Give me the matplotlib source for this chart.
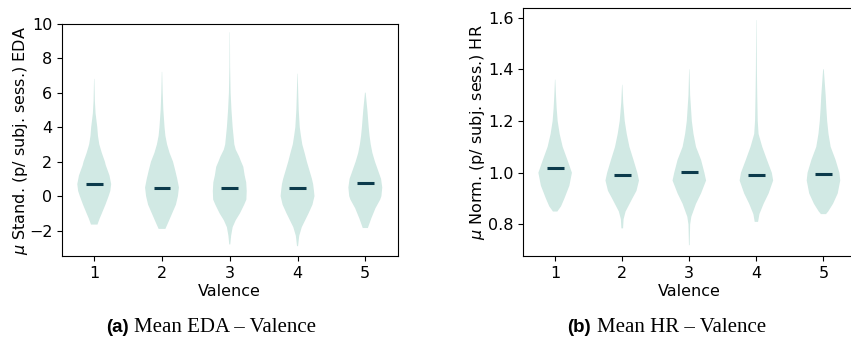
import matplotlib
matplotlib.use("Agg")
import matplotlib.pyplot as plt
import numpy as np

positions = [1, 2, 3, 4, 5]
xticklabels = ["1", "2", "3", "4", "5"]

# ---- EDA (left) violin profiles: y value and relative half-width ----
eda_coords = [
    [-1.65, -1.3, -1.0, -0.5, 0.0, 0.3, 0.7, 1.2, 1.8, 2.0, 2.5, 3.0, 3.5, 4.0, 4.8, 5.5, 6.8],
    [-1.9, -1.5, -1.0, -0.5, 0.0, 0.5, 1.0, 1.5, 2.0, 2.5, 3.0, 3.5, 4.0, 5.0, 6.0, 7.2],
    [-2.8, -2.3, -1.8, -1.4, -1.0, -0.5, -0.2, 0.3, 0.8, 1.2, 1.7, 2.0, 2.3, 2.7, 3.0, 4.0, 5.0, 6.0, 7.5, 9.5],
    [-2.9, -2.3, -1.8, -1.4, -1.0, -0.5, 0.0, 0.3, 0.7, 1.0, 1.5, 2.0, 2.5, 3.0, 3.5, 4.0, 5.0, 6.0, 7.1],
    [-1.85, -1.3, -0.7, -0.2, 0.0, 0.5, 1.0, 1.5, 2.0, 2.5, 3.0, 3.5, 4.0, 5.0, 6.0],
]
eda_widths = [
    [0.19, 0.32, 0.45, 0.66, 0.85, 0.95, 1.0, 0.9, 0.68, 0.63, 0.45, 0.3, 0.22, 0.18, 0.08, 0.04, 0.01],
    [0.2, 0.38, 0.6, 0.82, 0.94, 1.0, 0.9, 0.78, 0.65, 0.45, 0.3, 0.2, 0.15, 0.08, 0.04, 0.01],
    [0.03, 0.08, 0.17, 0.35, 0.6, 0.85, 0.98, 1.0, 0.97, 0.88, 0.8, 0.67, 0.55, 0.35, 0.27, 0.17, 0.1, 0.05, 0.02, 0.01],
    [0.03, 0.1, 0.25, 0.45, 0.65, 0.88, 1.0, 0.97, 0.92, 0.85, 0.7, 0.55, 0.42, 0.28, 0.2, 0.13, 0.07, 0.04, 0.01],
    [0.15, 0.35, 0.6, 0.88, 0.95, 1.0, 0.93, 0.75, 0.57, 0.42, 0.32, 0.25, 0.2, 0.12, 0.02],
]
eda_means = [0.68, 0.5, 0.5, 0.45, 0.78]

# ---- HR (right) violin profiles ----
hr_coords = [
    [0.85, 0.87, 0.9, 0.95, 1.0, 1.05, 1.1, 1.15, 1.2, 1.25, 1.3, 1.36],
    [0.785, 0.82, 0.85, 0.9, 0.93, 0.97, 1.0, 1.05, 1.1, 1.15, 1.2, 1.27, 1.34],
    [0.72, 0.8, 0.83, 0.88, 0.92, 0.97, 1.0, 1.05, 1.1, 1.15, 1.2, 1.3, 1.4],
    [0.81, 0.84, 0.88, 0.92, 0.97, 1.0, 1.05, 1.1, 1.15, 1.2, 1.3, 1.4, 1.59],
    [0.84, 0.85, 0.88, 0.92, 0.97, 1.0, 1.05, 1.1, 1.15, 1.2, 1.25, 1.3, 1.4],
]
hr_widths = [
    [0.13, 0.35, 0.55, 0.85, 1.0, 0.73, 0.45, 0.27, 0.15, 0.09, 0.05, 0.01],
    [0.05, 0.08, 0.2, 0.6, 0.85, 1.0, 0.9, 0.67, 0.43, 0.27, 0.15, 0.06, 0.01],
    [0.02, 0.05, 0.12, 0.4, 0.7, 1.0, 0.9, 0.7, 0.4, 0.25, 0.15, 0.05, 0.01],
    [0.1, 0.18, 0.43, 0.73, 1.0, 0.92, 0.63, 0.35, 0.13, 0.08, 0.05, 0.03, 0.01],
    [0.15, 0.28, 0.57, 0.85, 1.0, 0.95, 0.72, 0.43, 0.3, 0.22, 0.17, 0.13, 0.02],
]
hr_means = [1.017, 0.993, 1.002, 0.99, 0.997]

violin_color = "#d1e9e4"
mean_color = "#0c3b4c"

plt.rcParams["font.family"] = ["DejaVu Sans"]
fig = plt.figure(figsize=(8.51, 3.39), dpi=100)

ax1 = fig.add_axes([0.0729, 0.2434, 0.3942, 0.6867])
ax2 = fig.add_axes([0.6149, 0.2448, 0.3902, 0.7316])


def draw(ax, coords, widths, means):
    stats = []
    for c, w, m in zip(coords, widths, means):
        stats.append(dict(coords=np.array(c), vals=np.array(w), mean=m,
                          median=m, min=min(c), max=max(c)))
    parts = ax.violin(stats, positions=positions, widths=0.5,
                      showmeans=False, showextrema=False, showmedians=False)
    for b in parts["bodies"]:
        b.set_facecolor(violin_color)
        b.set_edgecolor("none")
        b.set_alpha(1)
    ax.hlines(means, np.array(positions) - 0.125, np.array(positions) + 0.125,
              color=mean_color, lw=2.2, zorder=3)
    ax.set_xticks(positions)
    ax.set_xticklabels(xticklabels)
    ax.set_xlim(0.525, 5.475)
    ax.tick_params(labelsize=11.5)
    ax.set_xlabel("Valence", fontsize=11.5, labelpad=2)


draw(ax1, eda_coords, eda_widths, eda_means)
ax1.set_ylim(-3.5, 10.0)
ax1.set_yticks([-2, 0, 2, 4, 6, 8, 10])
ax1.set_ylabel(r"$\mu$ Stand. (p/ subj. sess.) EDA", fontsize=11.5, labelpad=-1)

draw(ax2, hr_coords, hr_widths, hr_means)
ax2.set_ylim(0.678, 1.637)
ax2.set_yticks([0.8, 1.0, 1.2, 1.4, 1.6])
ax2.set_yticklabels(["0.8", "1.0", "1.2", "1.4", "1.6"])
ax2.set_ylabel(r"$\mu$ Norm. (p/ subj. sess.) HR", fontsize=11.5, labelpad=1)
ax2.spines["right"].set_visible(False)

# captions
cy = 1 - 327 / 339
fig.text(129 / 851, cy, "(a)", ha="right", va="center", fontsize=13.5,
         fontweight="bold", family=["Liberation Sans"])
fig.text(134 / 851, cy, "Mean EDA – Valence", ha="left", va="center",
         fontsize=15, family=["Liberation Serif"])
fig.text(591 / 851, cy, "(b)", ha="right", va="center", fontsize=13.5,
         fontweight="bold", family=["Liberation Sans"])
fig.text(597 / 851, cy, "Mean HR – Valence", ha="left", va="center",
         fontsize=15, family=["Liberation Serif"])

fig.savefig("out.png", dpi=100)
